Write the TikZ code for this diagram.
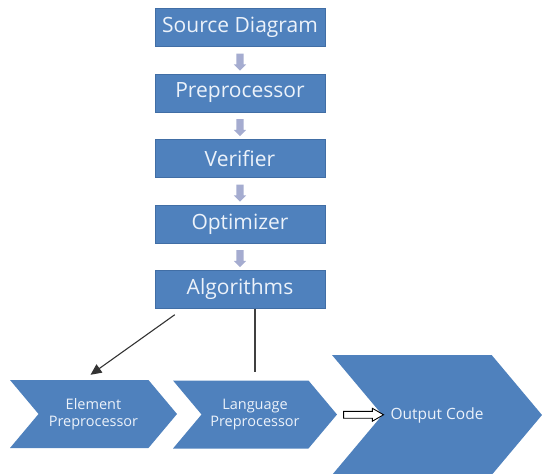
\documentclass[tikz,border=0pt]{standalone}
\usepackage{fontspec}
\setmainfont{Open Sans}
\usepackage{xcolor}
\usetikzlibrary{positioning, arrows.meta, shapes.symbols, shapes.arrows}

\definecolor{boxblue}{RGB}{79,129,189}
\definecolor{boxedge}{RGB}{65,110,165}
\definecolor{smallarrow}{RGB}{165,172,208}
\definecolor{lighttext}{RGB}{236,242,250}

\begin{document}
\begin{tikzpicture}
			[x=1pt, y=-1pt, node distance=65.5pt]
			
			\tikzstyle{process} = [rectangle, minimum width=170pt, minimum height=38pt, text centered, draw=boxedge, fill=boxblue, text=lighttext, font=\fontsize{21}{24}\selectfont]
			
			\tikzstyle{chevron} = [signal, signal to=east, signal from=west, signal pointer angle=100, inner sep=0pt, fill=boxblue, text=lighttext, align=center, font=\fontsize{14.5}{17}\selectfont]
			
			\tikzstyle{flow} = [single arrow, shape border rotate=270, fill=smallarrow, inner sep=3.5pt, single arrow head extend=2.5pt, minimum height=17pt]
			
			\tikzstyle{hollow} = [single arrow, draw=black, fill=white, line width=0.9pt, inner sep=3pt, single arrow head extend=3pt, single arrow tip angle=60, minimum height=40pt]
			
			\tikzstyle{arrow} = [line width=1.1pt, draw=black!80, -{Triangle[length=11pt, width=10pt]}]
			
			\useasboundingbox (0,0) rectangle (542,474);
			
			\node (src) [process] at (240,27.5) {Source Diagram};
			\node (pre) [process, below of=src] {Preprocessor};
			\node (ver) [process, below of=pre] {Verifier};
			\node (opt) [process, below of=ver] {Optimizer};
			\node (alg) [process, below of=opt] {Algorithms};
			
			\node (elem) [chevron, minimum width=167pt, minimum height=68pt] at (93.5,414) {Element\\Preprocessor};
			\node (lang) [chevron, minimum width=164pt, minimum height=68pt] at (255,414.5) {Language\\Preprocessor};
			\node (out) [chevron, minimum width=210pt, minimum height=120pt, font=\fontsize{15.5}{18}\selectfont] at (437,415) {Output Code};
			
			\path (src) -- node [flow] {} (pre);
			\path (pre) -- node [flow] {} (ver);
			\path (ver) -- node [flow] {} (opt);
			\path (opt) -- node [flow] {} (alg);
			
			\draw [arrow] ([xshift=20pt, yshift=-6pt]alg.south west) -- ([xshift=-3pt, yshift=5pt]elem.north);
			\draw [line width=1.1pt, black!75] (lang.north |- alg.south) -- ([yshift=8pt]lang.north);
			\path (lang.east) -- node [hollow, pos=0.52] {} (out.west);
			
		\end{tikzpicture}
\end{document}
